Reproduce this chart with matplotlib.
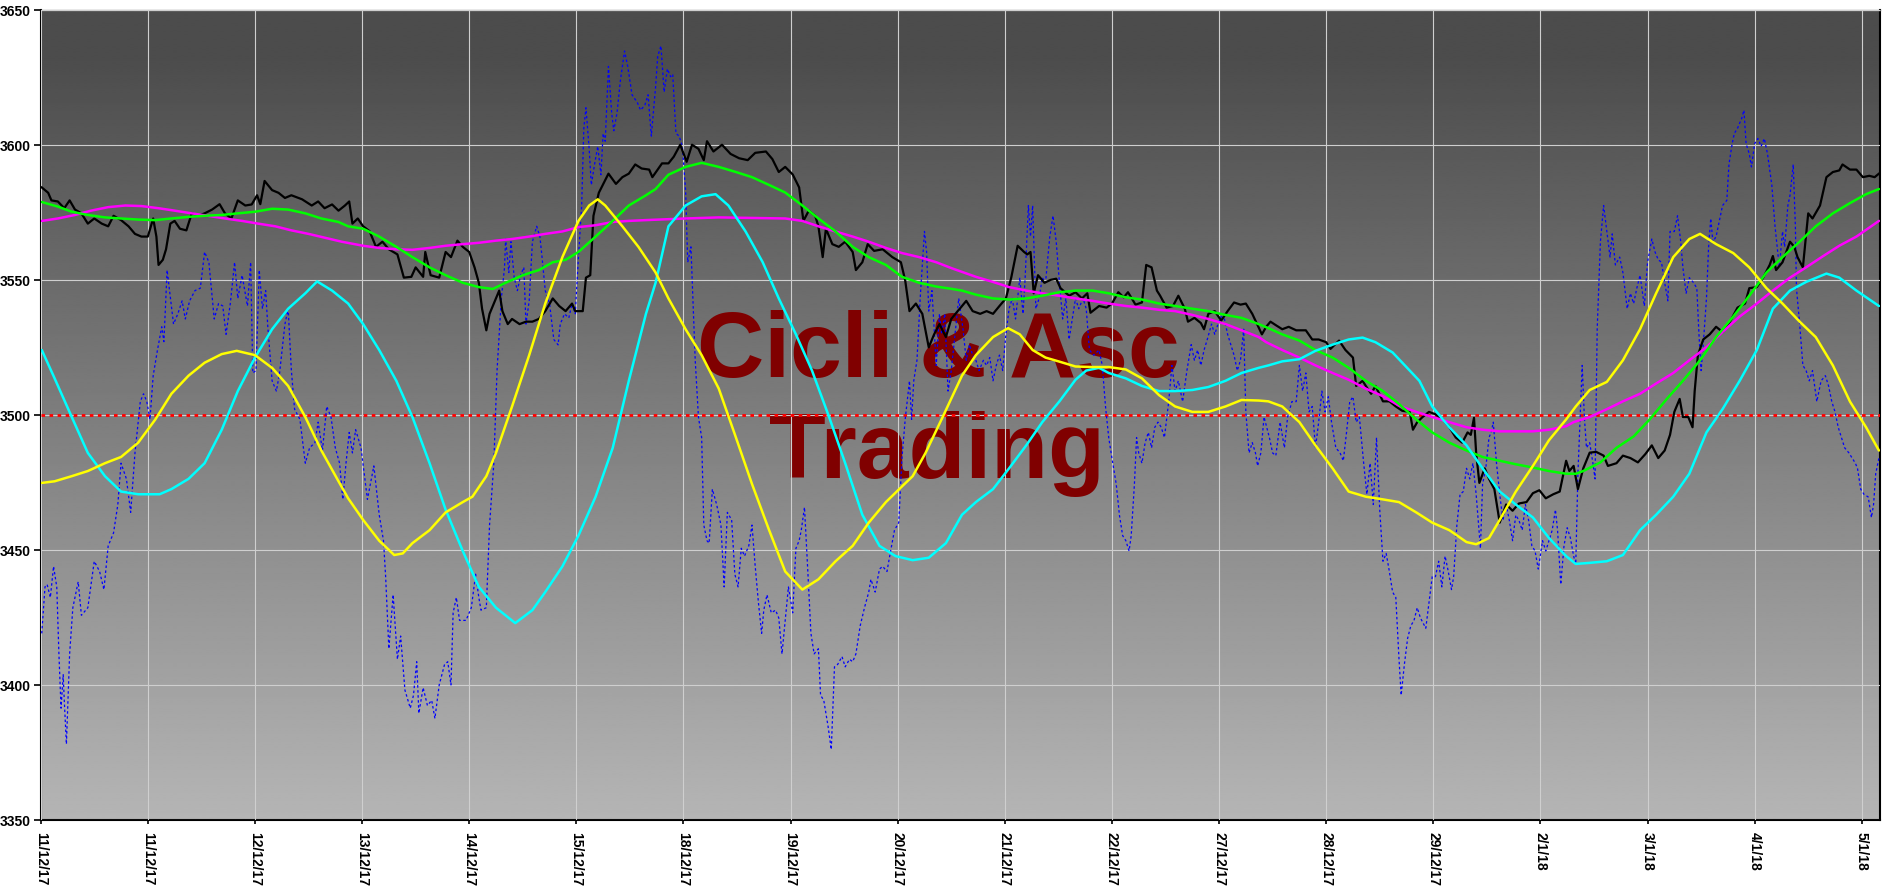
import matplotlib
matplotlib.use("Agg")
import matplotlib.pyplot as plt
import numpy as np

# ---------------- data (x in trading-day units, y in index points) ----------------
date_labels = ["11/12/17", "11/12/17", "12/12/17", "13/12/17", "14/12/17", "15/12/17",
               "18/12/17", "19/12/17", "20/12/17", "21/12/17", "22/12/17", "27/12/17",
               "28/12/17", "29/12/17", "2/1/18", "3/1/18", "4/1/18", "5/1/18"]
y_ticks = [3350, 3400, 3450, 3500, 3550, 3600, 3650]
ref_level = 3500

price_pts = [
    (0.01,3584.2),(0.07,3582.2),(0.10,3579.4),(0.16,3579.0),(0.22,3576.5),(0.27,3579.4),(0.32,3576.0),(0.38,3574.6),(0.44,3570.8),(0.50,3572.7),
    (0.57,3570.8),(0.63,3569.8),(0.68,3573.7),(0.75,3572.1),(0.82,3569.8),(0.88,3567.0),(0.94,3566.0),(1.00,3566.0),(1.05,3572.7),(1.08,3566.0),
    (1.10,3555.5),(1.14,3557.4),(1.17,3561.3),(1.21,3570.8),(1.25,3571.8),(1.30,3568.9),(1.36,3568.3),(1.41,3574.6),(1.47,3573.7),(1.53,3574.6),
    (1.60,3576.0),(1.67,3578.0),(1.72,3574.6),(1.78,3572.7),(1.84,3579.4),(1.91,3577.5),(1.97,3577.9),(2.02,3581.3),(2.05,3578.0),(2.09,3586.6),
    (2.16,3583.2),(2.22,3582.2),(2.28,3580.3),(2.34,3581.3),(2.44,3579.8),(2.53,3577.5),(2.59,3579.0),(2.65,3576.5),(2.72,3577.9),(2.78,3575.6),(2.84,3577.5),
    (2.88,3579.0),(2.91,3570.8),(2.96,3572.7),(3.01,3569.8),(3.07,3568.0),(3.13,3562.2),(3.19,3564.1),(3.25,3561.3),(3.33,3559.4),(3.39,3550.8),
    (3.46,3551.1),(3.50,3554.6),(3.57,3551.1),(3.59,3560.3),(3.64,3551.7),(3.72,3550.8),(3.78,3560.3),(3.83,3558.4),(3.89,3564.5),(3.94,3562.2),
    (4.00,3560.3),(4.05,3554.6),(4.09,3548.9),(4.12,3539.3),(4.16,3531.3),(4.19,3537.4),(4.23,3541.2),(4.28,3546.0),(4.31,3538.4),(4.36,3533.6),
    (4.40,3535.5),(4.47,3533.6),(4.53,3534.5),(4.59,3534.5),(4.65,3535.5),(4.71,3538.4),(4.78,3543.1),(4.84,3540.3),(4.90,3538.4),(4.96,3541.2),
    (4.99,3538.4),(5.06,3538.4),(5.09,3550.8),(5.13,3551.7),(5.16,3573.7),(5.21,3582.2),(5.30,3589.3),(5.37,3585.5),(5.43,3588.0),(5.49,3589.3),
    (5.55,3592.7),(5.61,3591.2),(5.68,3590.8),
    (5.71,3588.0),(5.80,3593.1),(5.86,3593.1),(5.91,3595.6),(5.97,3600.0),(6.03,3593.7),(6.08,3600.0),(6.14,3598.5),(6.19,3594.3),(6.22,3601.3),
    (6.28,3597.5),(6.36,3600.0),(6.44,3596.6),(6.52,3595.0),(6.60,3594.3),(6.67,3597.0),(6.77,3597.5),(6.83,3594.7),(6.89,3589.9),(6.95,3591.8),
    (7.02,3589.0),(7.08,3584.2),(7.12,3571.8),(7.17,3575.6),(7.23,3573.7),(7.26,3569.8),(7.30,3558.4),(7.33,3568.9),(7.39,3563.2),(7.45,3562.2),
    (7.51,3564.1),(7.58,3560.3),(7.61,3553.6),(7.67,3556.5),(7.72,3563.2),(7.78,3560.7),(7.86,3561.3),(7.95,3558.4),(8.03,3556.5),(8.07,3549.8),
    (8.11,3538.4),(8.17,3541.2),(8.23,3537.4),(8.29,3525.0),(8.34,3529.8),(8.39,3533.6),(8.45,3528.8),(8.50,3535.5),(8.56,3538.4),
    (8.58,3539.3),(8.64,3542.2),(8.70,3538.4),(8.77,3537.4),(8.83,3538.4),(8.89,3537.4),(8.95,3540.3),(9.01,3543.1),(9.06,3550.8),(9.12,3562.6),
    (9.18,3560.3),(9.21,3559.4),(9.24,3560.3),(9.27,3545.0),(9.31,3551.7),(9.37,3548.9),(9.43,3550.0),(9.48,3550.4),(9.52,3546.9),(9.60,3544.1),
    (9.66,3545.4),(9.72,3543.1),(9.77,3545.0),(9.80,3537.8),(9.88,3540.3),(9.95,3539.7),(10.00,3541.2),(10.06,3545.4),(10.11,3543.5),(10.15,3545.4),
    (10.22,3540.8),(10.28,3541.6),(10.32,3555.5),(10.37,3554.6),(10.42,3546.0),(10.45,3544.1),(10.51,3539.7),(10.57,3540.3),(10.62,3544.1),(10.68,3539.3),
    (10.71,3534.5),(10.77,3535.9),(10.83,3534.0),(10.86,3531.7),(10.90,3537.4),(10.96,3538.4),(11.02,3534.9),(11.08,3538.4),(11.14,3541.6),(11.20,3540.8),
    (11.25,3541.2),(11.31,3537.4),(11.36,3533.2),(11.40,3529.8),
    (11.44,3532.6),(11.48,3534.5),(11.53,3533.2),(11.59,3531.7),(11.65,3532.6),(11.72,3531.3),(11.81,3531.3),(11.87,3527.9),(11.93,3527.9),(12.00,3526.9),
    (12.04,3524.4),(12.12,3527.5),(12.18,3524.0),(12.25,3521.2),(12.28,3510.7),(12.34,3512.6),(12.37,3510.7),(12.42,3507.8),(12.46,3510.7),(12.53,3505.0),
    (12.59,3505.0),(12.65,3503.1),(12.71,3501.5),(12.78,3501.1),(12.81,3494.5),(12.85,3497.3),(12.90,3499.2),(12.96,3501.1),(13.02,3500.2),(13.09,3498.3),
    (13.15,3495.4),(13.21,3491.6),(13.27,3489.7),(13.32,3493.5),(13.35,3492.6),(13.38,3498.9),(13.40,3485.9),(13.43,3474.8),(13.48,3480.2),(13.52,3476.3),
    (13.57,3472.5),(13.62,3460.1),(13.68,3466.8),(13.74,3464.5),(13.80,3467.2),(13.87,3467.7),(13.93,3471.0),(13.99,3472.1),(14.05,3469.1),(14.12,3470.6),
    (14.18,3471.6),(14.24,3483.0),(14.27,3479.2),
    (14.31,3481.1),(14.35,3472.5),(14.40,3480.2),(14.46,3486.0),(14.52,3486.3),(14.59,3484.9),(14.63,3481.1),(14.71,3482.1),(14.77,3484.9),(14.84,3484.0),
    (14.91,3482.4),(14.98,3485.5),(15.04,3488.7),(15.10,3484.0),(15.16,3486.8),(15.21,3492.6),(15.25,3501.1),(15.30,3505.9),(15.33,3499.2),(15.38,3499.2),
    (15.42,3495.4),(15.44,3508.8),(15.47,3522.1),(15.52,3527.9),(15.58,3529.8),(15.64,3532.6),(15.70,3530.7),(15.77,3534.5),(15.84,3539.7),(15.91,3541.2),
    (15.95,3546.9),(16.02,3547.3),(16.08,3550.8),(16.14,3555.5),(16.17,3558.8),(16.20,3553.6),(16.26,3556.5),(16.33,3564.1),(16.37,3562.2),(16.40,3558.4),
    (16.45,3554.6),(16.50,3574.6),(16.54,3572.7),(16.61,3577.5),(16.67,3588.0),(16.73,3589.9),(16.79,3590.5),(16.82,3592.7),(16.89,3590.8),(16.95,3590.8),
    (17.01,3588.0),(17.07,3588.5),(17.12,3588.0),(17.16,3589.3),
]

fast_pts = [
    (0.01,3419.1),(0.04,3436.3),(0.06,3437.2),(0.09,3432.4),(0.12,3443.9),(0.15,3436.3),(0.17,3411.5),(0.19,3391.4),(0.21,3403.8),(0.22,3394.3),
    (0.24,3378.1),(0.27,3411.5),(0.30,3428.6),(0.35,3438.2),(0.38,3425.8),(0.44,3428.6),(0.50,3445.8),(0.55,3442.0),(0.59,3435.3),(0.63,3451.5),
    (0.68,3456.3),(0.72,3466.8),(0.75,3482.1),(0.80,3476.3),(0.84,3463.9),(0.88,3485.9),(0.93,3505.0),(0.96,3507.8),(0.99,3505.0),(1.02,3498.3),
    (1.05,3514.5),(1.09,3524.0),(1.13,3532.6),(1.15,3527.1),(1.18,3553.6),(1.24,3533.6),(1.28,3537.4),(1.32,3542.2),(1.35,3535.5),(1.39,3542.2),
    (1.44,3546.0),(1.49,3546.9),(1.53,3560.3),(1.57,3556.5),(1.62,3535.5),(1.66,3541.2),(1.70,3540.3),(1.73,3529.8),(1.77,3541.2),(1.81,3556.5),
    (1.84,3543.1),(1.88,3551.7),(1.93,3540.3),(1.96,3556.5),(1.98,3515.5),(2.01,3516.4),(2.04,3553.6),(2.07,3539.3),(2.10,3546.0),(2.12,3532.6),
    (2.16,3512.6),(2.20,3508.8),(2.23,3515.5),(2.28,3533.6),(2.31,3539.3),(2.34,3516.4),(2.37,3502.1),(2.42,3498.3),(2.47,3482.1),(2.51,3487.8),
    (2.56,3489.7),(2.59,3497.3),(2.63,3486.8),(2.67,3503.1),(2.71,3499.2),(2.75,3487.8),(2.79,3482.1),(2.82,3468.7),(2.85,3482.1),
    (2.88,3493.5),(2.91,3485.9),(2.94,3494.5),(2.99,3487.8),(3.05,3468.7),(3.11,3481.1),(3.16,3463.0),(3.20,3453.4),(3.22,3440.1),(3.25,3413.4),
    (3.29,3433.4),(3.33,3409.5),(3.36,3418.1),(3.40,3398.1),(3.45,3391.4),(3.48,3396.2),(3.51,3408.6),(3.53,3389.5),(3.57,3399.0),(3.61,3392.4),
    (3.65,3394.3),(3.68,3387.6),(3.72,3400.0),(3.77,3407.6),(3.80,3408.6),(3.83,3400.0),(3.85,3426.7),(3.88,3432.4),(3.91,3423.9),(3.97,3423.9),
    (4.02,3428.6),(4.06,3441.0),(4.09,3432.4),(4.11,3427.7),(4.16,3428.6),(4.19,3459.2),(4.23,3482.1),(4.26,3516.4),(4.30,3543.1),(4.33,3554.6),
    (4.34,3565.1),(4.37,3552.7),(4.39,3564.1),(4.42,3550.8),(4.45,3546.0),(4.48,3551.7),(4.51,3554.6),(4.53,3533.6),(4.56,3542.2),(4.59,3564.1),
    (4.63,3569.8),(4.66,3566.0),(4.68,3558.4),(4.71,3546.0),(4.75,3541.2),(4.79,3527.9),(4.83,3525.9),(4.85,3533.6),(4.89,3537.4),(4.93,3535.9),
    (4.96,3541.2),(4.99,3537.4),(5.02,3558.4),(5.05,3577.5),(5.07,3606.1),(5.09,3613.7),(5.12,3598.5),(5.14,3585.1),(5.17,3592.7),(5.20,3599.4),
    (5.23,3588.9),(5.25,3604.2),(5.27,3601.3),(5.30,3629.0),(5.33,3611.8),(5.35,3605.2),(5.38,3611.8),(5.41,3623.3),(5.45,3634.7),(5.48,3629.0),
    (5.52,3618.5),(5.57,3615.6),(5.60,3612.8),(5.64,3614.7),(5.67,3618.5),(5.70,3603.2),
    (5.74,3621.4),(5.76,3632.8),(5.79,3636.6),(5.82,3619.5),(5.85,3628.1),(5.88,3625.2),(5.90,3626.1),(5.93,3604.2),(5.96,3603.2),(5.99,3599.4),
    (6.02,3583.2),(6.04,3556.5),(6.07,3562.2),(6.11,3520.2),(6.14,3499.2),(6.17,3491.6),(6.19,3459.2),(6.22,3453.4),(6.24,3452.5),(6.27,3472.5),
    (6.31,3466.8),(6.35,3459.2),(6.38,3436.3),(6.41,3463.9),(6.45,3461.1),(6.48,3441.0),(6.51,3436.3),(6.54,3450.6),(6.57,3447.7),(6.61,3451.5),
    (6.64,3459.2),(6.67,3443.9),(6.70,3430.5),(6.73,3419.1),(6.75,3427.7),(6.78,3433.4),(6.82,3426.7),(6.86,3427.7),(6.89,3424.8),(6.92,3411.5),
    (6.95,3423.9),(6.98,3436.3),(7.02,3426.7),(7.05,3450.6),(7.08,3453.4),(7.10,3457.3),(7.13,3465.8),(7.16,3442.9),(7.19,3419.1),(7.22,3411.5),
    (7.26,3413.4),(7.28,3396.2),(7.31,3394.3),(7.35,3384.7),(7.38,3376.1),(7.41,3406.7),(7.44,3407.6),(7.48,3410.5),(7.51,3406.7),(7.55,3409.5),
    (7.58,3408.6),(7.61,3411.5),(7.65,3421.9),(7.69,3428.6),(7.73,3434.4),(7.75,3439.1),(7.79,3434.4),(7.83,3442.9),(7.86,3443.9),(7.90,3442.0),
    (7.93,3448.7),(7.97,3457.3),(8.01,3460.1),(8.04,3484.0),(8.07,3498.3),(8.11,3512.6),(8.13,3498.3),(8.15,3512.6),(8.18,3520.2),(8.21,3543.1),
    (8.25,3567.9),(8.27,3560.3),(8.29,3538.4),(8.32,3546.0),(8.36,3518.3),(8.39,3537.4),(8.41,3529.8),(8.44,3537.4),(8.47,3508.8),(8.50,3516.4),
    (8.54,3531.7),(8.57,3543.1),
    (8.61,3531.7),(8.64,3520.2),(8.67,3526.0),(8.70,3522.1),(8.73,3520.2),(8.76,3516.4),(8.80,3520.2),(8.83,3518.3),(8.86,3521.2),(8.89,3512.6),
    (8.92,3518.3),(8.95,3522.1),(8.98,3516.4),(9.01,3529.8),(9.04,3539.3),(9.07,3543.1),(9.10,3535.5),(9.14,3550.8),(9.17,3537.4),(9.19,3550.8),
    (9.22,3577.5),(9.24,3566.0),(9.26,3577.5),(9.29,3539.3),(9.32,3543.1),(9.35,3550.8),(9.38,3548.9),(9.42,3566.0),(9.45,3573.7),(9.48,3564.1),
    (9.51,3548.9),(9.54,3535.5),(9.57,3543.1),(9.60,3527.9),(9.63,3535.5),(9.66,3543.1),(9.69,3539.3),(9.73,3543.1),(9.76,3539.3),(9.79,3524.0),
    (9.83,3522.1),(9.88,3524.0),(9.91,3518.3),(9.94,3503.1),(9.97,3491.6),(10.00,3484.0),(10.04,3474.4),(10.07,3462.9),(10.10,3455.3),(10.13,3453.4),
    (10.16,3449.6),(10.18,3455.3),(10.21,3474.4),(10.23,3491.6),(10.25,3485.9),(10.28,3482.1),(10.31,3489.7),(10.34,3493.5),(10.37,3487.8),(10.40,3495.4),
    (10.43,3497.3),(10.46,3495.4),(10.49,3491.6),(10.53,3504.9),(10.56,3518.3),(10.59,3508.8),(10.62,3512.6),(10.66,3504.9),(10.70,3516.4),(10.74,3526.0),
    (10.77,3520.2),(10.80,3524.0),(10.83,3518.3),(10.86,3524.0),(10.89,3527.9),(10.93,3533.6),(10.96,3529.8),(10.99,3533.6),(11.02,3536.4),(11.05,3535.5),
    (11.08,3529.8),(11.11,3526.0),(11.14,3522.1),(11.17,3516.4),(11.20,3520.2),(11.23,3531.7),(11.25,3501.1),(11.28,3485.9),(11.31,3489.7),(11.34,3485.9),
    (11.36,3481.1),(11.39,3485.9),(11.42,3499.2),
    (11.47,3491.6),(11.50,3485.9),(11.53,3484.9),(11.57,3497.3),(11.61,3487.8),(11.64,3499.2),(11.68,3504.9),(11.72,3504.9),(11.75,3518.3),(11.78,3508.8),
    (11.81,3515.5),(11.84,3501.1),(11.87,3503.1),(11.90,3487.8),(11.93,3497.3),(11.96,3508.8),(11.99,3501.1),(12.02,3506.7),(12.05,3497.3),(12.09,3487.8),
    (12.13,3485.9),(12.16,3483.0),(12.19,3493.5),(12.22,3504.9),(12.25,3506.7),(12.28,3497.3),(12.31,3499.2),(12.35,3482.1),(12.38,3470.6),(12.41,3482.1),
    (12.44,3466.8),(12.47,3491.6),(12.50,3464.9),(12.53,3445.8),(12.56,3448.7),(12.59,3442.0),(12.62,3434.4),(12.65,3432.4),(12.68,3409.5),(12.70,3396.2),
    (12.73,3407.6),(12.76,3417.2),(12.79,3421.9),(12.82,3423.9),(12.85,3428.6),(12.88,3424.8),(12.93,3421.0),(12.96,3430.5),(12.99,3440.1),(13.02,3440.1),
    (13.05,3445.8),(13.08,3436.3),(13.11,3447.7),(13.14,3442.0),(13.17,3435.3),(13.19,3440.1),(13.22,3459.2),(13.25,3470.6),(13.28,3471.6),(13.31,3480.2),
    (13.34,3476.3),(13.37,3482.1),(13.40,3470.6),(13.44,3450.6),(13.46,3474.4),(13.49,3480.2),(13.52,3491.6),(13.54,3493.5),(13.56,3497.3),(13.59,3482.1),
    (13.62,3470.6),(13.65,3460.9),(13.68,3466.8),(13.71,3460.9),(13.74,3453.4),(13.77,3462.9),(13.80,3460.9),(13.83,3457.3),(13.86,3466.8),(13.89,3460.9),
    (13.92,3451.5),(13.95,3449.6),(13.98,3442.9),(14.02,3453.4),(14.05,3449.6),(14.08,3453.4),(14.11,3457.3),(14.14,3464.9),(14.16,3457.3),(14.19,3437.2),
    (14.22,3451.5),(14.25,3458.2),(14.28,3454.4),
    (14.31,3447.7),(14.33,3444.8),(14.35,3478.2),(14.39,3518.3),(14.41,3499.2),(14.43,3487.8),(14.46,3489.7),(14.49,3482.1),(14.51,3476.3),(14.53,3531.7),
    (14.56,3564.1),(14.59,3577.5),(14.62,3567.9),(14.65,3558.4),(14.67,3567.0),(14.70,3555.5),(14.74,3558.4),(14.77,3552.7),(14.81,3539.3),(14.84,3545.0),
    (14.87,3541.2),(14.90,3546.9),(14.93,3551.7),(14.97,3540.3),(15.00,3556.5),(15.04,3565.1),(15.07,3560.3),(15.10,3557.4),(15.13,3556.5),(15.16,3548.9),
    (15.19,3542.2),(15.21,3567.9),(15.25,3567.9),(15.28,3573.7),(15.31,3564.1),(15.33,3554.6),(15.36,3545.0),(15.39,3550.8),(15.43,3548.9),(15.46,3546.9),
    (15.48,3529.8),(15.50,3516.4),(15.52,3526.0),(15.55,3543.1),(15.57,3562.2),(15.59,3572.7),(15.61,3564.1),(15.64,3566.0),(15.67,3571.8),(15.70,3577.5),
    (15.74,3579.4),(15.76,3592.7),(15.79,3600.4),(15.81,3604.2),(15.84,3606.1),(15.88,3609.9),(15.90,3612.8),(15.92,3600.4),(15.95,3596.6),(15.97,3591.8),
    (16.00,3600.4),(16.03,3602.3),(16.06,3599.4),(16.09,3602.3),(16.12,3596.6),(16.16,3585.1),(16.19,3569.8),(16.22,3558.4),(16.23,3554.6),(16.26,3567.9),
    (16.28,3562.2),(16.31,3577.5),(16.33,3581.3),(16.36,3592.7),(16.38,3569.8),(16.39,3546.9),(16.42,3533.6),(16.45,3518.3),(16.48,3516.4),(16.51,3512.6),
    (16.54,3516.4),(16.58,3504.9),(16.62,3512.6),(16.66,3514.5),(16.69,3510.7),(16.72,3504.9),(16.75,3501.1),(16.78,3495.4),(16.81,3491.6),(16.84,3487.8),
    (16.88,3485.9),(16.91,3484.0),(16.94,3482.1),(16.96,3480.2),(16.99,3472.5),(17.02,3470.6),(17.06,3469.6),(17.09,3462.0),(17.11,3466.8),(17.13,3478.2),
    (17.16,3484.0),
]

green_pts = [
    (0.01,3578.8),(0.16,3577.1),(0.29,3575.2),(0.44,3574.0),(0.60,3573.1),(0.75,3572.7),(0.91,3572.3),(1.07,3572.1),(1.22,3572.7),(1.38,3573.3),
    (1.53,3573.7),(1.69,3574.0),(1.84,3574.6),(2.00,3575.2),(2.16,3576.3),(2.31,3576.0),(2.47,3574.6),(2.62,3572.7),(2.78,3571.4),(2.87,3569.8),
    (3.01,3568.9),(3.16,3566.0),(3.32,3562.2),(3.47,3558.4),(3.63,3554.6),(3.78,3551.7),(3.94,3548.9),(4.09,3547.3),(4.22,3546.6),(4.34,3548.9),
    (4.50,3551.7),(4.65,3553.6),(4.78,3556.5),(4.90,3557.4),(5.02,3560.3),(5.18,3566.0),(5.34,3571.8),(5.49,3577.5),(5.65,3581.3),(5.74,3583.6),
    (5.86,3588.9),(6.02,3591.8),(6.17,3593.3),(6.33,3591.8),(6.49,3589.9),(6.64,3588.0),(6.80,3585.1),(6.95,3582.3),(7.11,3577.5),(7.26,3572.7),
    (7.42,3567.9),(7.58,3562.2),(7.73,3558.4),(7.89,3555.5),(8.04,3551.1),(8.20,3548.9),(8.36,3547.5),(8.51,3546.6),(8.60,3546.0),
    (8.73,3544.5),(8.89,3543.1),(9.04,3542.7),(9.20,3543.1),(9.35,3544.1),(9.51,3545.4),(9.66,3546.0),(9.82,3546.0),(9.97,3545.0),(10.13,3543.5),
    (10.28,3542.7),(10.44,3541.2),(10.59,3540.3),(10.75,3539.3),(10.90,3538.4),(11.06,3537.0),(11.21,3535.9),(11.37,3533.6),(11.46,3532.1),
    (11.59,3529.8),(11.75,3527.5),(11.90,3524.0),(12.06,3521.2),(12.21,3517.4),(12.37,3512.6),(12.53,3508.8),(12.68,3504.0),(12.84,3498.3),(12.99,3493.5),
    (13.15,3489.7),(13.31,3486.8),(13.46,3484.4),(13.62,3483.0),(13.77,3481.7),(13.93,3480.5),(14.08,3479.2),(14.24,3478.2),(14.33,3478.2),
    (14.40,3479.2),(14.56,3482.4),(14.71,3487.8),(14.87,3492.0),(15.02,3498.3),(15.18,3505.9),(15.33,3512.6),(15.49,3520.2),(15.64,3528.8),(15.80,3536.4),
    (15.95,3544.1),(16.11,3552.7),(16.26,3558.4),(16.42,3564.1),(16.57,3569.8),(16.73,3574.6),(16.89,3578.4),(17.04,3581.7),(17.16,3583.6),
]

magenta_pts = [
    (0.01,3571.8),(0.16,3572.7),(0.32,3574.0),(0.47,3575.6),(0.63,3576.9),(0.79,3577.5),(0.94,3577.3),(1.10,3576.5),(1.25,3575.6),(1.41,3574.6),
    (1.56,3573.7),(1.72,3572.7),(1.88,3571.8),(2.03,3570.8),(2.19,3569.8),(2.34,3568.3),(2.50,3567.0),(2.65,3565.6),(2.81,3564.1),
    (3.01,3562.6),(3.16,3561.8),(3.32,3561.3),(3.47,3561.1),(3.63,3561.8),(3.78,3562.6),(3.94,3563.2),(4.09,3563.7),(4.25,3564.5),(4.40,3565.1),
    (4.56,3566.0),(4.71,3567.0),(4.87,3567.9),(5.02,3569.5),(5.18,3570.2),(5.34,3571.4),(5.49,3571.8),(5.65,3572.1),
    (6.02,3572.7),(6.33,3573.1),(6.64,3572.9),(6.95,3572.7),(7.11,3571.8),(7.26,3569.8),(7.42,3567.9),(7.58,3566.0),(7.73,3564.1),(7.89,3561.8),
    (8.04,3559.9),(8.20,3558.4),(8.36,3556.5),(8.51,3554.2),
    (8.73,3551.1),(8.89,3549.2),(9.04,3547.3),(9.20,3546.0),(9.35,3545.0),(9.51,3544.1),(9.66,3543.1),(9.82,3542.2),(9.97,3541.2),(10.13,3540.3),
    (10.28,3539.7),(10.44,3538.9),(10.59,3538.4),(10.75,3537.0),(10.90,3535.5),(11.06,3533.6),(11.21,3531.3),(11.37,3528.8),
    (11.44,3526.9),(11.59,3524.0),(11.75,3521.2),(11.90,3518.3),(12.06,3515.5),(12.21,3513.0),(12.37,3509.7),(12.53,3506.9),(12.68,3503.4),(12.84,3501.1),
    (12.99,3499.2),(13.15,3497.3),(13.31,3495.4),(13.46,3494.5),(13.62,3493.9),(13.77,3493.9),(13.93,3493.9),(14.08,3494.5),(14.24,3495.8),
    (14.31,3497.3),(14.46,3499.2),(14.62,3502.1),(14.77,3505.0),(14.93,3507.8),(15.08,3511.6),(15.24,3515.5),(15.39,3520.2),(15.55,3525.0),(15.70,3530.7),
    (15.86,3536.4),(16.02,3541.2),(16.17,3546.0),(16.33,3550.8),(16.48,3554.6),(16.64,3558.8),(16.79,3562.6),(16.95,3566.0),(17.16,3571.8),
]

yellow_pts = [
    (0.01,3474.8),(0.13,3475.4),(0.29,3477.3),(0.44,3479.2),(0.60,3482.1),(0.75,3484.4),(0.91,3489.7),(1.07,3498.3),(1.22,3507.8),(1.38,3514.5),
    (1.53,3519.3),(1.69,3522.5),(1.83,3523.7),(2.00,3522.1),(2.16,3517.4),(2.31,3510.7),(2.47,3499.2),(2.62,3486.8),(2.78,3475.4),(2.87,3469.1),
    (3.01,3461.1),(3.16,3453.4),(3.30,3448.1),(3.38,3448.7),(3.47,3452.5),(3.63,3457.3),(3.78,3463.9),(3.94,3467.7),(4.03,3469.7),(4.16,3477.3),
    (4.25,3485.9),(4.40,3503.1),(4.56,3522.1),(4.71,3541.2),(4.87,3558.4),(5.02,3571.8),(5.12,3577.5),(5.20,3579.8),(5.27,3577.5),(5.43,3569.8),
    (5.58,3562.2),(5.74,3552.7),
    (5.86,3543.1),(6.02,3531.7),(6.17,3522.1),(6.33,3509.7),(6.49,3491.6),(6.64,3474.4),(6.80,3457.3),(6.95,3442.0),(7.11,3435.3),(7.26,3439.1),
    (7.42,3445.8),(7.58,3451.5),(7.73,3460.1),(7.89,3467.7),(8.04,3473.5),(8.14,3477.3),(8.26,3485.9),(8.42,3499.2),(8.60,3514.5),
    (8.73,3522.1),(8.89,3528.8),(9.03,3532.1),(9.14,3529.8),(9.26,3524.0),(9.38,3521.2),(9.51,3519.7),(9.66,3517.9),(9.82,3517.7),(9.97,3517.7),
    (10.13,3516.8),(10.28,3513.5),(10.44,3507.3),(10.59,3503.1),(10.75,3501.1),(10.90,3501.1),(11.06,3503.1),(11.21,3505.5),(11.37,3505.3),(11.46,3505.0),
    (11.59,3503.1),(11.75,3497.3),(11.90,3488.7),(12.06,3480.2),(12.21,3471.6),(12.37,3469.7),(12.53,3468.7),(12.68,3467.7),(12.84,3463.9),(12.99,3460.1),
    (13.15,3457.3),(13.31,3452.9),(13.40,3452.1),(13.52,3454.4),(13.62,3461.1),(13.77,3471.6),(13.93,3481.1),(14.08,3490.6),(14.24,3498.3),(14.33,3503.1),
    (14.46,3509.2),(14.62,3512.2),(14.77,3520.2),(14.93,3531.7),(15.08,3545.0),(15.24,3558.4),(15.39,3565.1),(15.49,3567.0),(15.64,3563.2),(15.80,3559.9),
    (15.95,3554.6),(16.11,3546.9),(16.26,3541.2),(16.42,3534.5),(16.57,3528.8),(16.73,3518.3),(16.89,3504.9),(17.04,3495.4),(17.16,3486.8),
]

cyan_pts = [
    (0.01,3524.0),(0.13,3513.5),(0.29,3499.2),(0.44,3485.9),(0.60,3477.3),(0.75,3471.6),(0.91,3470.6),(1.11,3470.6),(1.22,3472.5),(1.38,3476.3),
    (1.53,3482.1),(1.69,3494.5),(1.84,3508.8),(2.00,3521.2),(2.16,3531.7),(2.31,3539.3),(2.47,3545.0),(2.58,3549.4),(2.72,3546.0),(2.87,3541.2),
    (3.01,3533.6),(3.16,3524.0),(3.32,3512.6),(3.47,3499.2),(3.63,3482.1),(3.78,3464.9),(3.94,3449.6),(4.09,3436.3),(4.25,3428.6),(4.43,3422.9),
    (4.59,3427.7),(4.71,3434.4),(4.87,3443.9),(5.02,3455.3),(5.18,3469.7),(5.34,3487.8),(5.49,3512.6),(5.65,3537.4),(5.74,3548.9),
    (5.86,3569.8),(6.02,3577.5),(6.17,3580.9),(6.30,3581.7),(6.42,3577.5),(6.58,3567.9),(6.74,3556.5),(6.89,3543.1),(7.05,3529.8),(7.20,3516.4),
    (7.36,3499.2),(7.51,3482.1),(7.67,3463.0),(7.83,3451.5),(7.98,3447.7),(8.14,3446.2),(8.29,3447.1),(8.45,3452.5),(8.60,3463.0),
    (8.73,3467.7),(8.89,3472.5),(9.04,3480.2),(9.20,3488.7),(9.35,3497.3),(9.51,3505.0),(9.66,3513.0),(9.76,3516.4),(9.88,3517.4),(9.97,3515.5),
    (10.13,3513.5),(10.28,3510.7),(10.44,3508.8),(10.59,3508.8),(10.75,3509.2),(10.90,3510.3),(11.06,3512.6),(11.21,3515.5),(11.37,3517.4),(11.46,3518.3),
    (11.59,3519.8),(11.75,3520.6),(11.90,3523.7),(12.06,3526.0),(12.21,3527.9),(12.34,3528.6),(12.46,3526.9),(12.62,3523.1),(12.78,3516.4),(12.87,3512.6),
    (12.99,3503.1),(13.15,3495.4),(13.31,3488.7),(13.46,3480.2),(13.62,3471.6),(13.77,3466.8),(13.93,3462.0),(14.08,3454.4),(14.24,3447.7),(14.33,3444.8),
    (14.46,3445.2),(14.62,3445.8),(14.77,3448.1),(14.93,3457.3),(15.08,3463.0),(15.24,3469.7),(15.39,3478.2),(15.55,3493.5),(15.70,3502.1),(15.86,3512.6),
    (16.02,3524.0),(16.17,3539.3),(16.33,3546.0),(16.48,3549.2),(16.67,3552.3),(16.79,3550.8),(16.95,3546.0),(17.16,3540.3),
]

watermark_lines = ["Cicli & Asc", "Trading"]

# ---------------- figure ----------------
plt.rcParams['font.family'] = ['Liberation Sans', 'DejaVu Sans']

fig = plt.figure(figsize=(18.87, 8.87), dpi=100)
fig.patch.set_facecolor('white')
ax = fig.add_axes([0.02157, 0.07441, 0.99629 - 0.02157, 0.98794 - 0.07441])

x_max = 17.17
ax.set_xlim(0, x_max)
ax.set_ylim(y_ticks[0], y_ticks[-1])

# background vertical gradient
frac = np.linspace(0, 1, 400)[:, None]  # 0 = bottom, 1 = top
top_band = 0.94
grad = np.where(frac > top_band, 0.30, 0.30 + (top_band - frac) / top_band * (0.71 - 0.30))
ax.imshow(np.repeat(grad, 2, axis=1), cmap='gray', vmin=0, vmax=1, origin='lower',
          extent=[0, 1, 0, 1], transform=ax.transAxes, aspect='auto', zorder=0,
          interpolation='bilinear')

ax.set_xticks(range(len(date_labels)))
ax.set_xticklabels(date_labels, rotation=270, fontsize=10, fontweight='bold',
                   ha='center', va='top')
ax.set_yticks(y_ticks)
ax.set_yticklabels([str(v) for v in y_ticks], fontsize=10, fontweight='bold')
ax.tick_params(axis='y', length=5, width=1.2, pad=2, colors='black')
ax.tick_params(axis='x', length=3, width=1.2, pad=5, colors='black')
ax.grid(True, color='#cfcfcf', lw=0.8, zorder=1)
ax.set_axisbelow(False)

for side in ['left', 'bottom', 'right']:
    ax.spines[side].set_color('black')
    ax.spines[side].set_linewidth(1.5)
ax.spines['top'].set_color('#8a8a8a')
ax.spines['top'].set_linewidth(1.0)

# watermark
ax.text(8.38, 3514.3, watermark_lines[0], ha='center', va='baseline', fontsize=67,
        fontweight='bold', color='#800000', zorder=2)
ax.text(8.37, 3476.9, watermark_lines[1], ha='center', va='baseline', fontsize=67,
        fontweight='bold', color='#800000', zorder=2)

# reference level
ax.axhline(ref_level, color='#ff0000', lw=2.0, linestyle=(0, (1.3, 1.6)), zorder=3)

def unzip(pts):
    xs, ys = zip(*pts)
    return np.array(xs), np.array(ys)

fx, fy = unzip(fast_pts)
ax.plot(fx, fy, color='#0000ff', lw=0.9, linestyle=(0, (2, 2)), zorder=4)

px, py = unzip(price_pts)
ax.plot(px, py, color='black', lw=1.6, zorder=5)

for pts, col in [(magenta_pts, '#ff00ff'), (green_pts, '#00ff00'),
                 (cyan_pts, '#00ffff'), (yellow_pts, '#ffff00')]:
    xs, ys = unzip(pts)
    ax.plot(xs, ys, color=col, lw=1.8, zorder=6, solid_capstyle='round')

fig.savefig('out.png', dpi=100, facecolor='white')
